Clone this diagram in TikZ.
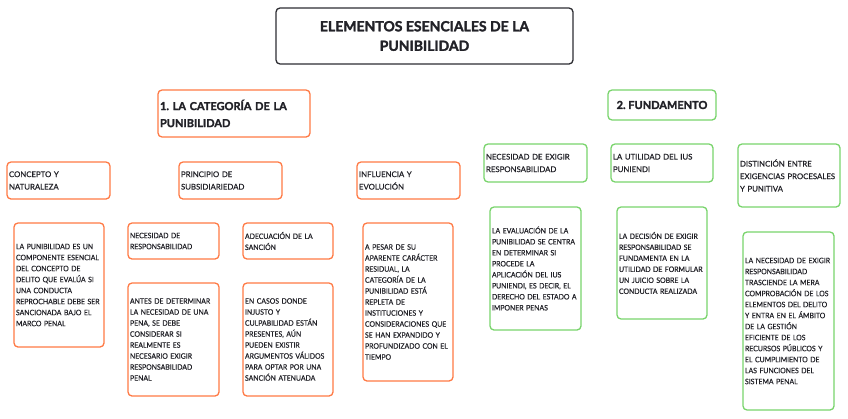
\documentclass[tikz,border=0pt]{standalone}
\usepackage{fontspec}
\setmainfont{Lato}[BoldFeatures={FakeBold=2}]
\newfontfamily\smallf{Lato}[FakeStretch=0.92,FakeBold=0.4]
\newfontfamily\midf{Lato}[FakeBold=0.4]
\usetikzlibrary{backgrounds}
\definecolor{orangeB}{HTML}{FF7A45}
\definecolor{greenB}{HTML}{79D46C}
\definecolor{rootB}{HTML}{2E2E33}
\definecolor{lineC}{HTML}{CFCFCF}
\definecolor{txt}{HTML}{222228}
\hyphenpenalty=10000
\exhyphenpenalty=10000
\frenchspacing
\tikzset{
  box/.style={draw, rounded corners=4pt, fill=white, line width=1.3pt, inner sep=2pt,
    align=left, text=txt, font=\smallf\fontsize{7.5}{11}\selectfont},
  ob/.style={box, draw=orangeB},
  gb/.style={box, draw=greenB},
  lvtwo/.style={font=\midf\fontsize{7.8}{12.5}\selectfont},
  conn/.style={draw=lineC, line width=1.1pt},
}
\begin{document}
\begin{tikzpicture}[x=1pt,y=1pt]
\useasboundingbox[fill=white] (0,0) rectangle (848,-418);
% root
\node[draw=rootB, fill=white, rounded corners=4pt, line width=1.3pt, minimum width=297pt, minimum height=56pt,
  align=center, text=txt, font=\bfseries\fontsize{14}{19.5}\selectfont] (root) at (424.5,-36)
  {ELEMENTOS ESENCIALES DE LA\\PUNIBILIDAD};
% main branches
\node[ob, minimum width=152pt, minimum height=47pt, text width=148pt, font=\bfseries\fontsize{11}{17}\selectfont] (n1) at (234,-113.5)
  {1. LA CATEGORÍA DE LA\\PUNIBILIDAD};
\node[gb, minimum width=108pt, minimum height=30pt, align=center, font=\bfseries\fontsize{11}{17}\selectfont] (n2) at (662,-105)
  {2. FUNDAMENTO};
% level 2 left
\node[ob, lvtwo, minimum width=103pt, minimum height=37pt, text width=99pt] (c1) at (58.5,-180.5) {CONCEPTO Y\\NATURALEZA};
\node[ob, lvtwo, minimum width=103pt, minimum height=37pt, text width=99pt] (c2) at (230.5,-180.5) {PRINCIPIO DE\\SUBSIDIARIEDAD};
\node[ob, lvtwo, minimum width=103pt, minimum height=37pt, text width=99pt] (c3) at (408.5,-180.5) {INFLUENCIA Y\\EVOLUCIÓN};
% level 2 right
\node[gb, lvtwo, minimum width=103pt, minimum height=38pt, text width=99pt] (f1) at (535.5,-163) {NECESIDAD DE EXIGIR\\RESPONSABILIDAD};
\node[gb, lvtwo, minimum width=102pt, minimum height=38pt, text width=98pt] (f2) at (662,-163) {LA UTILIDAD DEL IUS\\PUNIENDI};
\node[gb, lvtwo, minimum width=102pt, minimum height=63pt, text width=98pt] (f3) at (789,-175.5) {DISTINCIÓN ENTRE\\EXIGENCIAS PROCESALES\\Y PUNITIVA};
% level 3 left
\node[ob, minimum width=90pt, minimum height=124pt, text width=86pt] (d1) at (59,-285)
  {LA PUNIBILIDAD ES UN\\COMPONENTE ESENCIAL\\DEL CONCEPTO DE\\DELITO QUE EVALÚA SI\\UNA CONDUCTA\\REPROCHABLE DEBE SER\\SANCIONADA BAJO EL\\MARCO PENAL};
\node[ob, minimum width=91pt, minimum height=36pt, text width=87pt] (d2) at (173.5,-241)
  {NECESIDAD DE\\RESPONSABILIDAD};
\node[ob, minimum width=91pt, minimum height=113pt, text width=87pt] (d3) at (173.5,-339.5)
  {ANTES DE DETERMINAR\\LA NECESIDAD DE UNA\\PENA, SE DEBE\\CONSIDERAR SI\\REALMENTE ES\\NECESARIO EXIGIR\\RESPONSABILIDAD\\PENAL};
\node[ob, minimum width=90pt, minimum height=36pt, text width=86pt] (d4) at (288,-241)
  {ADECUACIÓN DE LA\\SANCIÓN};
\node[ob, minimum width=90pt, minimum height=113pt, text width=86pt] (d5) at (288,-339.5)
  {EN CASOS DONDE\\INJUSTO Y\\CULPABILIDAD ESTÁN\\PRESENTES, AÚN\\PUEDEN EXISTIR\\ARGUMENTOS VÁLIDOS\\PARA OPTAR POR UNA\\SANCIÓN ATENUADA};
\node[ob, minimum width=90pt, minimum height=158pt, text width=86pt] (d6) at (408,-302)
  {A PESAR DE SU\\APARENTE CARÁCTER\\RESIDUAL, LA\\CATEGORÍA DE LA\\PUNIBILIDAD ESTÁ\\REPLETA DE\\INSTITUCIONES Y\\CONSIDERACIONES QUE\\SE HAN EXPANDIDO Y\\PROFUNDIZADO CON EL\\TIEMPO};
% level 3 right
\node[gb, minimum width=91pt, minimum height=123pt, text width=87pt] (g1) at (535.5,-268.5)
  {LA EVALUACIÓN DE LA\\PUNIBILIDAD SE CENTRA\\EN DETERMINAR SI\\PROCEDE LA\\APLICACIÓN DEL IUS\\PUNIENDI, ES DECIR, EL\\DERECHO DEL ESTADO A\\IMPONER PENAS};
\node[gb, minimum width=90pt, minimum height=112pt, text width=86pt] (g2) at (662,-263)
  {LA DECISIÓN DE EXIGIR\\RESPONSABILIDAD SE\\FUNDAMENTA EN LA\\UTILIDAD DE FORMULAR\\UN JUICIO SOBRE LA\\CONDUCTA REALIZADA};
\node[gb, minimum width=91pt, minimum height=178pt, text width=87pt] (g3) at (788.5,-321)
  {LA NECESIDAD DE EXIGIR\\RESPONSABILIDAD\\TRASCIENDE LA MERA\\COMPROBACIÓN DE LOS\\ELEMENTOS DEL DELITO\\Y ENTRA EN EL ÁMBITO\\DE LA GESTIÓN\\EFICIENTE DE LOS\\RECURSOS PÚBLICOS Y\\EL CUMPLIMIENTO DE\\LAS FUNCIONES DEL\\SISTEMA PENAL};
% connectors
\begin{scope}[on background layer]
\draw[conn] ([yshift=-12pt]root.west) to[out=180,in=90] ([xshift=4pt]n1.north);
\draw[conn] ([yshift=-4pt]root.east) to[out=0,in=90] ([xshift=-2pt]n2.north);
\draw[conn] (n1.west) to[out=180,in=90] ([xshift=4pt]c1.north);
\draw[conn] (n1.south -| c2.north) -- (c2.north);
\draw[conn] (n1.east) to[out=0,in=90] ([xshift=-2pt]c3.north);
\draw[conn] (c2.center) to[out=210,in=90] ([xshift=2pt]d2.north);
\draw[conn] (c2.center) to[out=-30,in=90] ([xshift=-1pt]d4.north);
\draw[conn] (c1.south) -- (d1.north -| c1.south);
\draw[conn] (d2.south) -- (d3.north);
\draw[conn] (d4.south) -- (d5.north);
\draw[conn] (c3.south) -- (d6.north -| c3.south);
\draw[conn] (n2.west) to[out=180,in=90] ([xshift=2pt]f1.north);
\draw[conn] (n2.south) -- (f2.north);
\draw[conn] ([yshift=-8pt]n2.east) to[out=0,in=90] ([xshift=-13pt]f3.north);
\draw[conn] (f1.south) -- (g1.north);
\draw[conn] (f2.south) -- (g2.north);
\draw[conn] (f3.south) -- (g3.north -| f3.south);
\end{scope}
\end{tikzpicture}
\end{document}
